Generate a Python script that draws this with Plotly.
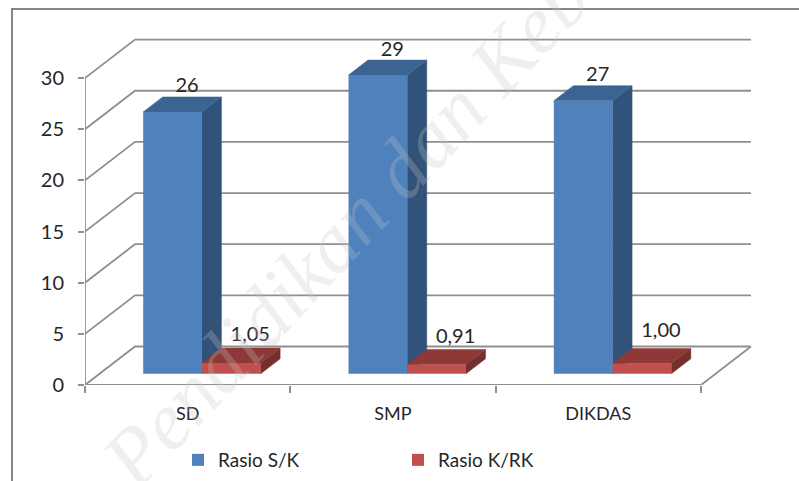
import plotly.graph_objects as go

categories = ["SD", "SMP", "DIKDAS"]
rasio_sk = [25.6, 29.2, 26.7]
rasio_krk = [1.05, 0.91, 1.00]
labels_sk = ["26", "29", "27"]
labels_krk = ["1,05", "0,91", "1,00"]
y_ticks = [0, 5, 10, 15, 20, 25, 30]
series_names = ["Rasio S/K", "Rasio K/RK"]

W, H = 799, 481
X0, Y0 = 85, 385
CAT_PX = 205.33
UNIT_PX = 10.23
PLOT_R, PLOT_T = 765, 30
DX = 50 / CAT_PX      # wall depth in category units
DY = 38.5 / UNIT_PX   # wall depth in value units
BAR_NEAR, BAR_FAR = 0.29, 0.68
GAP = 0.2128
BW = 0.286
GREY = "#8F8F8F"
TXT = "#262626"
FONT = "Lato"

fig = go.Figure()

def line(xs, ys, z=0):
    fig.add_trace(go.Scatter(x=xs, y=ys, mode="lines", line=dict(color=GREY, width=1.8),
                             showlegend=False, hoverinfo="skip", cliponaxis=False, zorder=z))

n = len(categories)
for v in y_ticks:
    line([0, DX, n + DX], [v, v + DY, v + DY])
line([0, n], [0, 0])
line([0, 0], [0, y_ticks[-1]])
line([n, n + DX], [0, DY])

def poly(xs, ys, color, z):
    fig.add_trace(go.Scatter(x=xs, y=ys, mode="lines", fill="toself", fillcolor=color,
                             line=dict(color=color, width=0.5), showlegend=False,
                             hoverinfo="skip", cliponaxis=False, zorder=z))

series = [
    (rasio_sk, series_names[0], 0, "#4F81BD", "#3C6493", "#325379"),
    (rasio_krk, series_names[1], 1, "#C0504D", "#8E3937", "#752F2D"),
]
bn = BAR_NEAR * DY
bf = BAR_FAR * DY
xn = BAR_NEAR * DX
xf = BAR_FAR * DX
for vals, name, s, front, top, side in series:
    z = 1 + s * 3
    lefts = [i + GAP + xn + s * BW for i in range(n)]
    for l, v in zip(lefts, vals):
        r = l + BW
        poly([r, r + xf - xn, r + xf - xn, r, r],
             [bn, bf, v + bf, v + bn, bn], side, z)
        poly([l, l + xf - xn, r + xf - xn, r, l],
             [v + bn, v + bf, v + bf, v + bn, v + bn], top, z)
    fig.add_trace(go.Bar(x=lefts, y=vals, base=[bn] * n, width=BW, offset=0, name=name,
                         marker=dict(color=front, line=dict(width=0)), zorder=z + 1,
                         hoverinfo="name+y"))

# data labels
fig.add_trace(go.Scatter(
    x=[i + 0.497 for i in range(n)], y=[v + bn + 24.5 / UNIT_PX for v in rasio_sk],
    text=labels_sk, mode="text", textposition="middle center",
    textfont=dict(family=FONT, size=20, color=TXT), showlegend=False, hoverinfo="skip",
    cliponaxis=False, zorder=9))
fig.add_trace(go.Scatter(
    x=[i + 0.805 for i in range(n)], y=[v + bn + off / UNIT_PX for v, off in zip(rasio_krk, [27, 27, 32])],
    text=labels_krk, mode="text", textposition="middle center",
    textfont=dict(family=FONT, size=20, color=TXT), showlegend=False, hoverinfo="skip",
    cliponaxis=False, zorder=9))

def px(x):
    return (x - X0) / (PLOT_R - X0)

def py(y):
    return (Y0 - y) / (Y0 - PLOT_T)

fig.update_layout(
    width=W, height=H, autosize=False,
    paper_bgcolor="white", plot_bgcolor="white",
    margin=dict(l=X0, r=W - PLOT_R, t=PLOT_T, b=H - Y0, autoexpand=False),
    barmode="overlay",
    font=dict(family=FONT, size=18, color=TXT),
    xaxis=dict(range=[0, (PLOT_R - X0) / CAT_PX], showgrid=False, zeroline=False, showline=False,
               tickmode="array", tickvals=[i + 0.5 for i in range(n)], ticktext=categories,
               ticks="", ticklabelstandoff=16, tickfont=dict(size=18, family=FONT, color=TXT),
               minor=dict(tickmode="array", tickvals=list(range(n + 1)), ticks="outside",
                          ticklen=7, tickwidth=1.8, tickcolor=GREY, showgrid=False)),
    yaxis=dict(range=[0, (Y0 - PLOT_T) / UNIT_PX], showgrid=False, zeroline=False, showline=False,
               tickmode="array", tickvals=y_ticks, ticks="outside", ticklen=6, tickwidth=1.8,
               tickcolor=GREY, ticklabelstandoff=10, tickfont=dict(size=20, family=FONT, color=TXT)),
    legend=dict(orientation="h", x=px(178), xanchor="left", y=py(479), yanchor="bottom",
                entrywidthmode="pixels", entrywidth=175, font=dict(size=19, family=FONT, color=TXT),
                bgcolor="rgba(0,0,0,0)"),
    shapes=[dict(type="path", xref="paper", yref="paper", layer="below",
                 path=f"M{px(W + 5)},{py(9)} L{px(12)},{py(9)} L{px(12)},{py(H + 5)}",
                 line=dict(color="#868686", width=2))],
    annotations=[dict(text="<i>Pendidikan dan Kebudayaan</i>", xref="paper", yref="paper",
                      x=px(442), y=py(126), xanchor="center", yanchor="middle", showarrow=False,
                      textangle=-47, font=dict(family="Liberation Serif", size=82,
                                               color="rgba(195,195,195,0.27)"))],
)

fig.write_html("out.html", config={"displayModeBar": False},
               post_script="document.body.style.margin='0';document.body.style.overflow='hidden';")
